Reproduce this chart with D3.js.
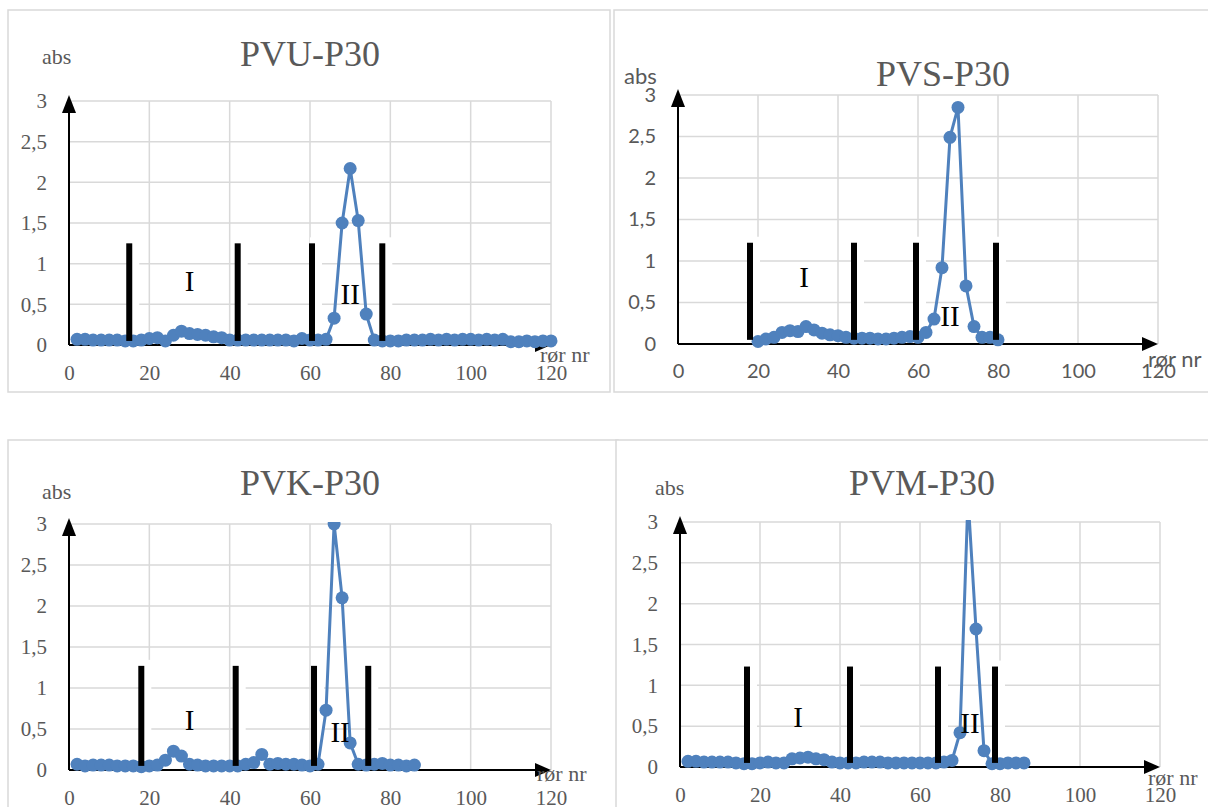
<!DOCTYPE html>
<html>
<head>
<meta charset="utf-8">
<script src="https://cdn.jsdelivr.net/npm/d3@7"></script>
<style>
  body { margin: 0; background: #fff; }
</style>
</head>
<body>
<svg width="1208" height="807"></svg>
<script>
// tube numbers (rør nr) and absorbance
const pvuTubes = [2,4,6,8,10,12,14,16,18,20,22,24,26,28,30,32,34,36,38,40,42,44,46,48,50,52,54,56,58,60,
                  62,64,66,68,70,72,74,76,78,80,82,84,86,88,90,92,94,96,98,100,102,104,106,108,110,112,114,116,118,120];
const pvuAbs = [0.07,0.07,0.06,0.06,0.06,0.06,0.05,0.05,0.06,0.08,0.09,0.05,0.12,0.17,0.14,0.13,0.12,0.1,0.09,0.06,
                0.06,0.06,0.06,0.06,0.06,0.06,0.06,0.05,0.08,0.06,0.06,0.07,0.33,1.5,2.17,1.53,0.38,0.06,0.05,0.05,
                0.05,0.06,0.06,0.06,0.07,0.06,0.07,0.06,0.07,0.07,0.06,0.07,0.06,0.07,0.04,0.04,0.05,0.04,0.05,0.05];

const pvsTubes = [20,22,24,26,28,30,32,34,36,38,40,42,44,46,48,50,52,54,56,58,60,62,64,66,68,70,72,74,76,78,80];
const pvsAbs = [0.03,0.06,0.08,0.14,0.16,0.15,0.21,0.17,0.13,0.11,0.1,0.08,0.07,0.07,0.07,0.06,0.06,0.07,0.08,0.09,
                0.08,0.14,0.3,0.92,2.49,2.85,0.7,0.21,0.08,0.08,0.05];

const pvkTubes = [2,4,6,8,10,12,14,16,18,20,22,24,26,28,30,32,34,36,38,40,42,44,46,48,50,52,54,56,58,60,
                  62,64,66,68,70,72,74,76,78,80,82,84,86];
const pvkAbs = [0.07,0.05,0.06,0.06,0.06,0.05,0.05,0.05,0.04,0.05,0.06,0.12,0.23,0.17,0.07,0.06,0.05,0.05,0.05,0.05,
                0.05,0.07,0.09,0.19,0.07,0.08,0.07,0.07,0.06,0.05,0.07,0.73,3.0,2.1,0.33,0.07,0.06,0.07,0.08,0.06,
                0.06,0.05,0.06];

const pvmTubes = [2,4,6,8,10,12,14,16,18,20,22,24,26,28,30,32,34,36,38,40,42,44,46,48,50,52,54,56,58,60,
                  62,64,66,68,70,72,74,76,78,80,82,84,86];
const pvmAbs = [0.07,0.07,0.06,0.06,0.06,0.06,0.05,0.04,0.04,0.05,0.06,0.05,0.05,0.1,0.11,0.12,0.1,0.09,0.06,0.05,
                0.05,0.05,0.06,0.06,0.06,0.05,0.05,0.05,0.05,0.05,0.05,0.05,0.06,0.08,0.42,3.3,1.69,0.2,0.04,0.04,
                0.05,0.05,0.05];

// black fraction markers (tube positions)
const pvuBars = [15, 42, 60.5, 78];
const pvsBars = [18, 44, 59.5, 79.5];
const pvkBars = [18, 41.5, 61, 74.5];
const pvmBars = [16.75, 42.5, 64.5, 78.75];

const xTicks = [0, 20, 40, 60, 80, 100, 120];
const yTicks = [0, 0.5, 1, 1.5, 2, 2.5, 3];

const serif = '"Liberation Serif", "Times New Roman", serif';
const sans = 'Lato, "Open Sans", sans-serif';

const panels = [
  { title: "PVU-P30", tubes: pvuTubes, abs: pvuAbs, bars: pvuBars, barTop: 1.25, font: serif, fs: 21,
    frame: [8, 10, 602, 382], x0: 69, x1: 551, y0: 345, y3: 101,
    titlePos: [310, 66], absPos: [42, 64], rorPos: [540, 362],
    roman: [[30, 0.75, "I"], [70, 0.58, "II"]] },
  { title: "PVS-P30", tubes: pvsTubes, abs: pvsAbs, bars: pvsBars, barTop: 1.22, font: sans, fs: 20,
    frame: [614, 10, 600, 382], x0: 678, x1: 1158, y0: 344, y3: 95,
    titlePos: [943, 86], absPos: [624, 84], rorPos: [1148, 367],
    roman: [[31.5, 0.77, "I"], [68, 0.3, "II"]] },
  { title: "PVK-P30", tubes: pvkTubes, abs: pvkAbs, bars: pvkBars, barTop: 1.27, font: serif, fs: 21,
    frame: [8, 440, 610, 380], x0: 69, x1: 551, y0: 770, y3: 524,
    titlePos: [310, 495], absPos: [42, 499], rorPos: [537, 781],
    roman: [[30, 0.57, "I"], [67.5, 0.42, "II"]] },
  { title: "PVM-P30", tubes: pvmTubes, abs: pvmAbs, bars: pvmBars, barTop: 1.23, font: serif, fs: 21,
    frame: [616, 440, 600, 380], x0: 680, x1: 1160, y0: 767, y3: 522,
    titlePos: [922, 495], absPos: [655, 495], rorPos: [1148, 785],
    roman: [[29.5, 0.57, "I"], [72.5, 0.5, "II"]] }
];

const svg = d3.select("svg").attr("font-family", serif);
svg.append("rect").attr("width", 1208).attr("height", 807).attr("fill", "#fff");

const defs = svg.append("defs");
const blue = "#4f81bd";
const gray = "#595959";
const grid = "#d9d9d9";

panels.forEach(function (p, i) {
  const g = svg.append("g");

  g.append("rect")
    .attr("x", p.frame[0]).attr("y", p.frame[1])
    .attr("width", p.frame[2]).attr("height", p.frame[3])
    .attr("fill", "#fff").attr("stroke", grid).attr("stroke-width", 1.5);

  const x = d3.scaleLinear().domain([0, 120]).range([p.x0, p.x1]);
  const y = d3.scaleLinear().domain([0, 3]).range([p.y0, p.y3]);

  // gridlines
  g.append("g").selectAll("line").data(xTicks.slice(1)).enter().append("line")
    .attr("x1", d => x(d)).attr("x2", d => x(d))
    .attr("y1", p.y0).attr("y2", p.y3)
    .attr("stroke", grid).attr("stroke-width", 1.5);
  g.append("g").selectAll("line").data(yTicks.slice(1)).enter().append("line")
    .attr("x1", p.x0).attr("x2", p.x1)
    .attr("y1", d => y(d)).attr("y2", d => y(d))
    .attr("stroke", grid).attr("stroke-width", 1.5);

  // tick labels
  const yAxis = d3.axisLeft(y).tickValues(yTicks).tickSize(0).tickPadding(22)
    .tickFormat(d => String(d).replace(".", ","));
  const ya = g.append("g").attr("transform", "translate(" + p.x0 + ",0)").call(yAxis);
  const xAxis = d3.axisBottom(x).tickValues(xTicks).tickSize(0).tickPadding(20);
  const xa = g.append("g").attr("transform", "translate(0," + p.y0 + ")").call(xAxis);
  [ya, xa].forEach(function (a) {
    a.attr("font-family", p.font).attr("font-size", p.fs);
    a.select(".domain").remove();
    a.selectAll("text").attr("fill", gray);
  });

  // pasted bar images leave white patches over the grid
  g.selectAll("rect.patch").data(p.bars).enter().append("rect")
    .attr("class", "patch")
    .attr("x", d => x(d) - 2).attr("width", 12)
    .attr("y", y(p.barTop) - 6).attr("height", y(0) - y(p.barTop) + 5)
    .attr("fill", "#fff");

  // axes with arrows
  g.append("line").attr("x1", p.x0).attr("x2", p.x0).attr("y1", p.y0).attr("y2", p.y3 + 10)
    .attr("stroke", "#000").attr("stroke-width", 2);
  g.append("path")
    .attr("d", "M" + p.x0 + "," + (p.y3 - 6) + "L" + (p.x0 - 7) + "," + (p.y3 + 12) + "L" + (p.x0 + 7) + "," + (p.y3 + 12) + "Z")
    .attr("fill", "#000");
  g.append("line").attr("x1", p.x0).attr("x2", p.x1 - 12).attr("y1", p.y0).attr("y2", p.y0)
    .attr("stroke", "#000").attr("stroke-width", 2);
  g.append("path")
    .attr("d", "M" + p.x1 + "," + p.y0 + "L" + (p.x1 - 16) + "," + (p.y0 - 7) + "L" + (p.x1 - 16) + "," + (p.y0 + 7) + "Z")
    .attr("fill", "#000");

  // titles
  g.append("text").attr("x", p.titlePos[0]).attr("y", p.titlePos[1])
    .attr("text-anchor", "middle").attr("fill", gray).attr("font-size", 36).text(p.title);
  g.append("text").attr("x", p.absPos[0]).attr("y", p.absPos[1])
    .attr("font-family", p.font).attr("fill", gray).attr("font-size", 22).text("abs");

  // data series, clipped to plot
  defs.append("clipPath").attr("id", "clip" + i).append("rect")
    .attr("x", p.x0 - 10).attr("y", p.y3 - 2).attr("width", p.x1 - p.x0 + 20).attr("height", p.y0 - p.y3 + 12);
  const pts = p.tubes.map((t, k) => [t, p.abs[k]]);
  const series = g.append("g").attr("clip-path", "url(#clip" + i + ")");
  series.append("path").datum(pts)
    .attr("fill", "none").attr("stroke", blue).attr("stroke-width", 3)
    .attr("d", d3.line().x(d => x(d[0])).y(d => y(d[1])));
  series.selectAll("circle").data(pts).enter().append("circle")
    .attr("cx", d => x(d[0])).attr("cy", d => y(d[1])).attr("r", 6.5)
    .attr("fill", blue);

  // fraction bars
  g.selectAll("rect.bar").data(p.bars).enter().append("rect")
    .attr("class", "bar")
    .attr("x", d => x(d) - 3).attr("width", 6)
    .attr("y", y(p.barTop)).attr("height", y(0.05) - y(p.barTop))
    .attr("fill", "#000");

  g.selectAll("text.roman").data(p.roman).enter().append("text")
    .attr("class", "roman")
    .attr("x", d => x(d[0])).attr("y", d => y(d[1]))
    .attr("text-anchor", "middle").attr("dominant-baseline", "middle")
    .attr("fill", "#000").attr("font-size", 29).text(d => d[2]);

  g.append("text").attr("x", p.rorPos[0]).attr("y", p.rorPos[1])
    .attr("font-family", p.font).attr("fill", gray).attr("font-size", 22).text("rør nr");
});
</script>
</body>
</html>
